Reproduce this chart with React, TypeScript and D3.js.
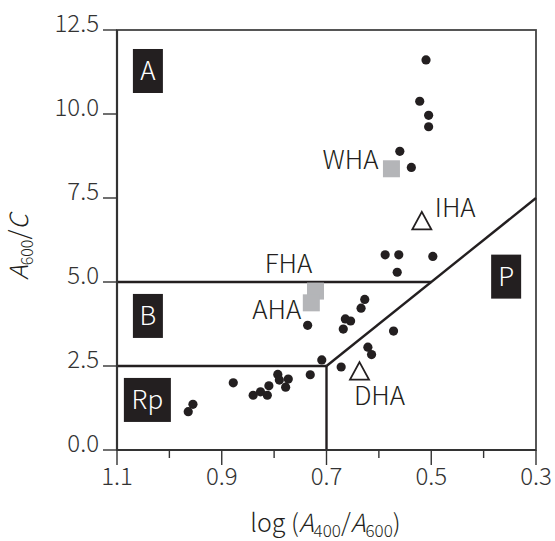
import React from 'react'
import * as d3 from 'd3'

// sample points (log(A400/A600), A600/C)
const dotX = [0.51, 0.522, 0.505, 0.505, 0.56, 0.538, 0.588, 0.562, 0.497, 0.565, 0.627, 0.634, 0.664, 0.654, 0.668, 0.572, 0.621, 0.614, 0.672, 0.736, 0.709, 0.878, 0.955, 0.964, 0.84, 0.826, 0.813, 0.81, 0.793, 0.79, 0.778, 0.773, 0.731]
const dotY = [11.61, 10.38, 9.96, 9.62, 8.89, 8.41, 5.81, 5.81, 5.76, 5.29, 4.48, 4.22, 3.9, 3.84, 3.6, 3.54, 3.06, 2.84, 2.47, 3.71, 2.68, 2.0, 1.36, 1.14, 1.63, 1.73, 1.63, 1.91, 2.25, 2.08, 1.87, 2.11, 2.24]

// reference humic acids
const refNames = ['WHA', 'FHA', 'AHA', 'IHA', 'DHA']
const refX = [0.576, 0.721, 0.729, 0.518, 0.637]
const refY = [8.37, 4.73, 4.38, 6.76, 2.29]
const refShape = ['square', 'square', 'square', 'triangle', 'triangle']

// type regions
const regionNames = ['A', 'B', 'Rp', 'P']
const regionX = [1.041, 1.041, 1.042, 0.357]
const regionY = [11.28, 3.99, 1.49, 5.16]

// boundaries between types
const boundaryLines: [number, number][][] = [
  [[1.1, 5.0], [0.5, 5.0]],
  [[1.1, 2.5], [0.7, 2.5]],
  [[0.7, 0.0], [0.7, 2.5]],
  [[0.7, 2.5], [0.3, 7.5]],
]

const xTicks = [1.1, 1.0, 0.9, 0.8, 0.7, 0.6, 0.5, 0.4, 0.3]
const xLabelTicks = [1.1, 0.9, 0.7, 0.5, 0.3]
const yTicks = [0, 2.5, 5, 7.5, 10, 12.5]

export default function App() {
  const width = 555
  const height = 541
  const left = 117
  const right = 536
  const top = 30
  const bottom = 450
  const font = '"Noto Sans CJK JP", "Noto Sans", sans-serif'
  const ink = '#231f20'

  const x = d3.scaleLinear().domain([1.1, 0.3]).range([left, right])
  const y = d3.scaleLinear().domain([0, 12.5]).range([bottom, top])
  const line = d3.line<[number, number]>().x(d => x(d[0])).y(d => y(d[1]))

  // label placement relative to markers
  const refLabel: Record<string, { dx: number; dy: number; anchor: string }> = {
    WHA: { dx: -13, dy: 0, anchor: 'end' },
    FHA: { dx: -27, dy: -18, anchor: 'middle' },
    AHA: { dx: -10, dy: 16, anchor: 'end' },
    IHA: { dx: 13, dy: -6, anchor: 'start' },
    DHA: { dx: 20, dy: 32, anchor: 'middle' },
  }
  const boxW: Record<string, number> = { A: 30, B: 30, Rp: 47, P: 30 }

  return (
    <svg width={width} height={height} style={{ position: 'absolute', left: 0, top: 0, background: '#fff' }} fontFamily={font} fontWeight={300}>
      {/* frame */}
      <rect x={left} y={top} width={right - left} height={bottom - top} fill="none" stroke="#444" strokeWidth={1.8} />

      {/* boundaries */}
      {boundaryLines.map((seg, i) => (
        <path key={`b${i}`} d={line(seg) || ''} fill="none" stroke={ink} strokeWidth={2.4} />
      ))}

      {/* axes */}
      <line x1={left} x2={left} y1={top} y2={bottom} stroke="#333" strokeWidth={2.2} />
      <line x1={left} x2={right} y1={bottom} y2={bottom} stroke="#333" strokeWidth={2.2} />
      {yTicks.map(t => (
        <g key={`y${t}`}>
          <line x1={left - 14} x2={left} y1={y(t)} y2={y(t)} stroke="#333" strokeWidth={1.4} />
          <text x={left - 18} y={y(t) + 2} textAnchor="end" fontSize={24} fill="#333">{t.toFixed(1)}</text>
        </g>
      ))}
      {xTicks.map(t => {
        const major = xLabelTicks.some(v => Math.abs(v - t) < 1e-9)
        return (
          <g key={`x${t}`}>
            <line x1={x(t)} x2={x(t)} y1={bottom} y2={bottom + (major ? 15 : 8)} stroke="#333" strokeWidth={1.4} />
            {major && <text x={x(t)} y={485} textAnchor="middle" fontSize={24} fill="#333">{t.toFixed(1)}</text>}
          </g>
        )
      })}

      {/* axis titles */}
      <text x={(left + right) / 2 - 1} y={532} textAnchor="middle" fontSize={25} fill={ink}>
        log (<tspan fontStyle="italic">A</tspan><tspan fontSize={17} dy={5}>400</tspan><tspan dy={-5}>/</tspan><tspan fontStyle="italic">A</tspan><tspan fontSize={17} dy={5}>600</tspan><tspan dy={-5}>)</tspan>
      </text>
      <text transform="translate(28,247) rotate(-90)" textAnchor="middle" fontSize={25} fill={ink}>
        <tspan fontStyle="italic">A</tspan><tspan fontSize={16} dy={5}>600</tspan><tspan dy={-5}>/</tspan><tspan fontStyle="italic">C</tspan>
      </text>

      {/* region labels */}
      {regionNames.map((n, i) => (
        <g key={n}>
          <rect x={x(regionX[i]) - boxW[n] / 2} y={y(regionY[i]) - 22} width={boxW[n]} height={44} fill={ink} />
          <text x={x(regionX[i])} y={y(regionY[i]) + 9.5} textAnchor="middle" fontSize={26} fill="#fff">{n}</text>
        </g>
      ))}

      {/* samples */}
      {dotX.map((v, i) => (
        <circle key={`d${i}`} cx={x(v)} cy={y(dotY[i])} r={4.6} fill={ink} />
      ))}

      {/* reference materials */}
      {refNames.map((n, i) => {
        const cx = x(refX[i])
        const cy = y(refY[i])
        const lab = refLabel[n]
        return (
          <g key={n}>
            {refShape[i] === 'square'
              ? <rect x={cx - 8.5} y={cy - 8.5} width={17} height={17} fill="#b4b5b8" />
              : <path d={`M${cx},${cy - 11}L${cx + 9.5},${cy + 6.5}L${cx - 9.5},${cy + 6.5}Z`} fill="#fff" stroke={ink} strokeWidth={1.8} />}
            <text x={cx + lab.dx} y={cy + lab.dy} textAnchor={lab.anchor} fontSize={26} fill={ink}>{n}</text>
          </g>
        )
      })}
    </svg>
  )
}
